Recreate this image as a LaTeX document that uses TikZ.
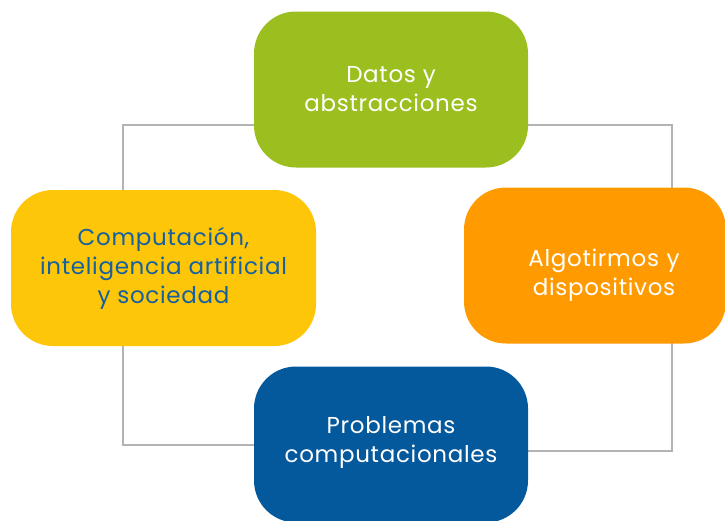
\documentclass[tikz,border=0pt]{standalone}
\usepackage{fontspec}
\setmainfont{Poppins}[LetterSpace=3]
\usetikzlibrary{backgrounds}
\definecolor{cgreen}{HTML}{9BBF1F}
\definecolor{cyellow}{HTML}{FDC608}
\definecolor{corange}{HTML}{FF9B00}
\definecolor{cblue}{HTML}{04589C}
\definecolor{ctext}{HTML}{1760A0}
\definecolor{cline}{HTML}{B3B3B3}
\tikzset{
  topic/.style={rounded corners=42pt, minimum height=156pt, align=center,
    font=\fontsize{23}{29}\selectfont, inner sep=0pt},
  link/.style={draw=cline, line width=2pt}
}
\begin{document}
\begin{tikzpicture}[x=1pt,y=-1pt]
\useasboundingbox (0,0) rectangle (725,520);
\clip (0,0) rectangle (725,520);
\node[topic, fill=cgreen, minimum width=274pt, text=white] (green) at (391,89.5) {Datos y\\abstracciones};
\node[topic, fill=cyellow, minimum width=305pt, text=ctext] (yellow) at (163.5,268) {Computación,\\inteligencia artificial\\y sociedad};
\node[topic, fill=corange, minimum width=262pt, text=white, text width=262pt] (orange) at (595,265.5) {\hspace*{18pt}Algotirmos y\\\hspace*{18pt}dispositivos\\[-43pt]\mbox{}};
\node[topic, fill=cblue, minimum width=274pt, text=white] (blue) at (391,444.5) {Problemas\\computacionales\\[-18pt]\mbox{}};
\coordinate (tl) at (123,125);
\coordinate (bl) at (123,445);
\coordinate (tr) at (672,125);
\coordinate (br) at (672,451);
\begin{scope}[on background layer]
\draw[link] (green.center |- tl) -- (tl) -- (bl) -- (blue.center |- bl);
\draw[link] (green.center |- tr) -- (tr) -- (br) -- (blue.center |- br);
\end{scope}
\end{tikzpicture}
\end{document}
